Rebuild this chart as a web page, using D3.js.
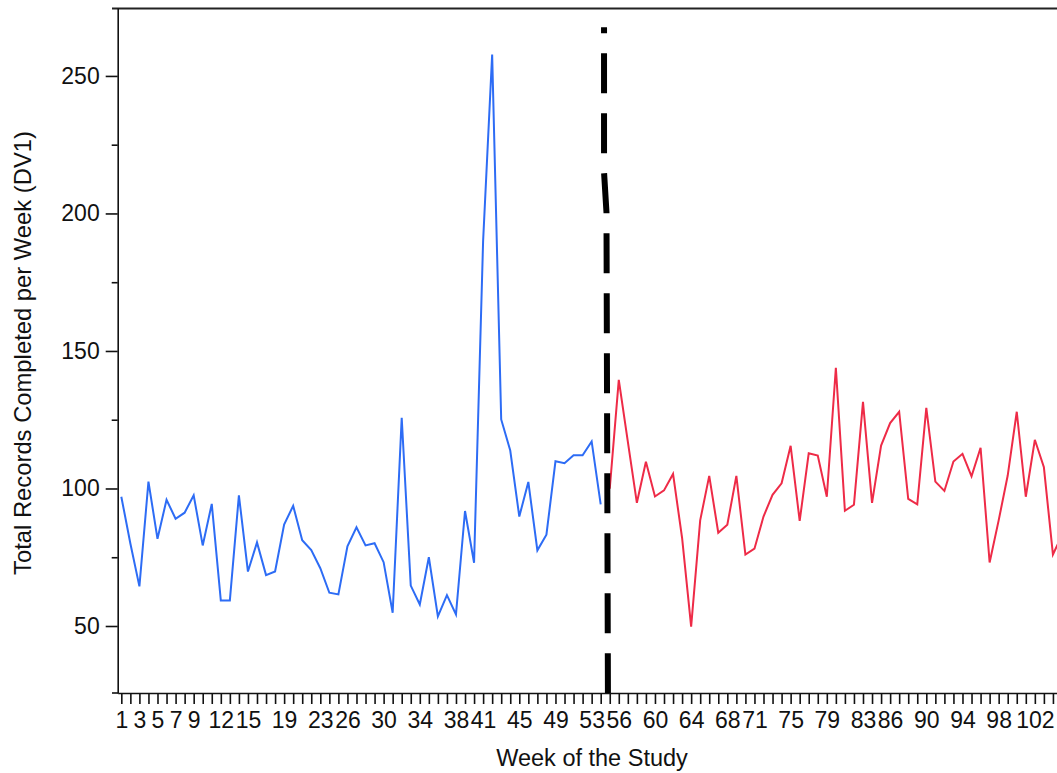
<!DOCTYPE html>
<html>
<head>
<meta charset="utf-8">
<script src="https://cdn.jsdelivr.net/npm/d3@7/dist/d3.min.js"></script>
<style>
  body { margin: 0; background: #fff; }
  text { font-family: "Liberation Sans", Arial, sans-serif; }
</style>
</head>
<body>
<div id="plot"></div>
<script>
// Canvas size
var svgWidth = 1057;
var svgHeight = 773;

// Data: weekly totals, baseline (weeks 1-54) and intervention (weeks 55-105)
var baselineStart = 1;
var baselineValues = [97, 80, 64.4, 102.5, 81.7, 95.9, 89, 91.2, 97.5, 79.3,
  94.4, 59.3, 59.3, 97.5, 69.8, 80.4, 68.5, 69.8, 86.9, 93.7,
  81.2, 77.6, 71, 62.1, 61.5, 79, 85.9, 79.3, 80.1, 73.2,
  54.8, 125.7, 64.7, 57.8, 75, 53.5, 61.2, 54.2, 91.8, 73,
  190, 257.8, 125.1, 113.8, 89.8, 102.4, 77.5, 83.2, 109.9, 109.2,
  112.1, 112.1, 117.1, 94.2];

var treatmentStart = 55;
var treatmentValues = [99.9, 139.5, 117, 94.8, 109.7, 97.1, 99.3, 105.3, 82, 49.8,
  88.4, 104.6, 83.9, 86.8, 104.6, 76, 78.1, 89.8, 97.7, 101.9,
  115.5, 88.2, 112.8, 112, 97, 143.9, 91.9, 94.1, 131.5, 94.8,
  115.6, 123.8, 127.9, 96.2, 94.2, 129.3, 102.5, 99.1, 109.8, 112.6,
  104.4, 114.8, 73.1, 88.4, 104.7, 127.9, 97, 117.7, 107.7, 76, 83];

// Phase change line (slightly bent, as drawn in the original)
var phaseLine = [[54.37, 267.7], [54.37, 215], [54.64, 200.4], [54.8, 25.6]];

// Tick labels shown on the x axis
var xLabelWeeks = [1, 3, 5, 7, 9, 12, 15, 19, 23, 26, 30, 34, 38, 41, 45, 49,
  53, 56, 60, 64, 68, 71, 75, 79, 83, 86, 90, 94, 98, 102];
var yMajorTicks = [50, 100, 150, 200, 250];
var yMinorTicks = [75, 125, 175, 225];

var baselineData = baselineValues.map((v, i) => ({ week: baselineStart + i, value: v }));
var treatmentData = treatmentValues.map((v, i) => ({ week: treatmentStart + i, value: v }));

var svg = d3.select("#plot")
  .append("svg")
  .attr("width", svgWidth)
  .attr("height", svgHeight);

// Scales
var xScale = d3.scaleLinear()
  .domain([0.6, 105.5])
  .range([117.7, 1066.5]);

var yScale = d3.scaleLinear()
  .domain([25.64, 274.7])
  .range([693, 8]);

// Top frame line
svg.append("line")
  .attr("x1", 112).attr("x2", svgWidth)
  .attr("y1", 8.5).attr("y2", 8.5)
  .attr("stroke", "#222")
  .attr("stroke-width", 2);

// Bottom axis: a tick every week, labels only where the original shows them
var bottomAxis = d3.axisBottom(xScale)
  .tickValues(d3.range(1, 106))
  .tickSizeInner(11)
  .tickSizeOuter(0)
  .tickPadding(8)
  .tickFormat(d => xLabelWeeks.includes(d) ? d : "");

svg.append("g")
  .attr("transform", "translate(0, 693)")
  .call(bottomAxis);

// Left axis, major and minor ticks
var leftAxis = d3.axisLeft(yScale)
  .tickValues(yMajorTicks)
  .tickSizeInner(12)
  .tickSizeOuter(0)
  .tickPadding(6);

svg.append("g")
  .attr("transform", "translate(117.7, 0)")
  .call(leftAxis);

svg.append("g")
  .attr("transform", "translate(117.7, 0)")
  .call(d3.axisLeft(yScale).tickValues(yMinorTicks).tickSize(6).tickFormat(""))
  .select(".domain").remove();

svg.selectAll(".tick line, .domain")
  .attr("stroke", "#111")
  .attr("stroke-width", 1.6);

svg.selectAll(".tick text")
  .attr("fill", "#111")
  .style("font-size", "23px");

// extend x axis line a little to the left, like the original
svg.append("line")
  .attr("x1", 112).attr("x2", 118)
  .attr("y1", 693).attr("y2", 693)
  .attr("stroke", "#111")
  .attr("stroke-width", 1.6);

// Lines
var line = d3.line()
  .x(d => xScale(d.week))
  .y(d => yScale(d.value));

svg.append("path")
  .datum(baselineData)
  .attr("fill", "none")
  .attr("stroke", "#2d6cf5")
  .attr("stroke-width", 2)
  .attr("d", line);

svg.append("path")
  .datum(treatmentData)
  .attr("fill", "none")
  .attr("stroke", "#ee2b47")
  .attr("stroke-width", 2)
  .attr("d", line);

// Phase change dashed line
svg.append("path")
  .datum(phaseLine)
  .attr("fill", "none")
  .attr("stroke", "#000")
  .attr("stroke-width", 6)
  .attr("stroke-dasharray", "40,20")
  .attr("stroke-dashoffset", 34)
  .attr("d", d3.line().x(d => xScale(d[0])).y(d => yScale(d[1])));

// Axis titles
svg.append("text")
  .attr("transform", "translate(31, 353) rotate(-90)")
  .attr("text-anchor", "middle")
  .style("font-size", "23.8px")
  .attr("fill", "#111")
  .text("Total Records Completed per Week (DV1)");

svg.append("text")
  .attr("x", 592)
  .attr("y", 766)
  .attr("text-anchor", "middle")
  .style("font-size", "23.5px")
  .attr("fill", "#111")
  .text("Week of the Study");
</script>
</body>
</html>
